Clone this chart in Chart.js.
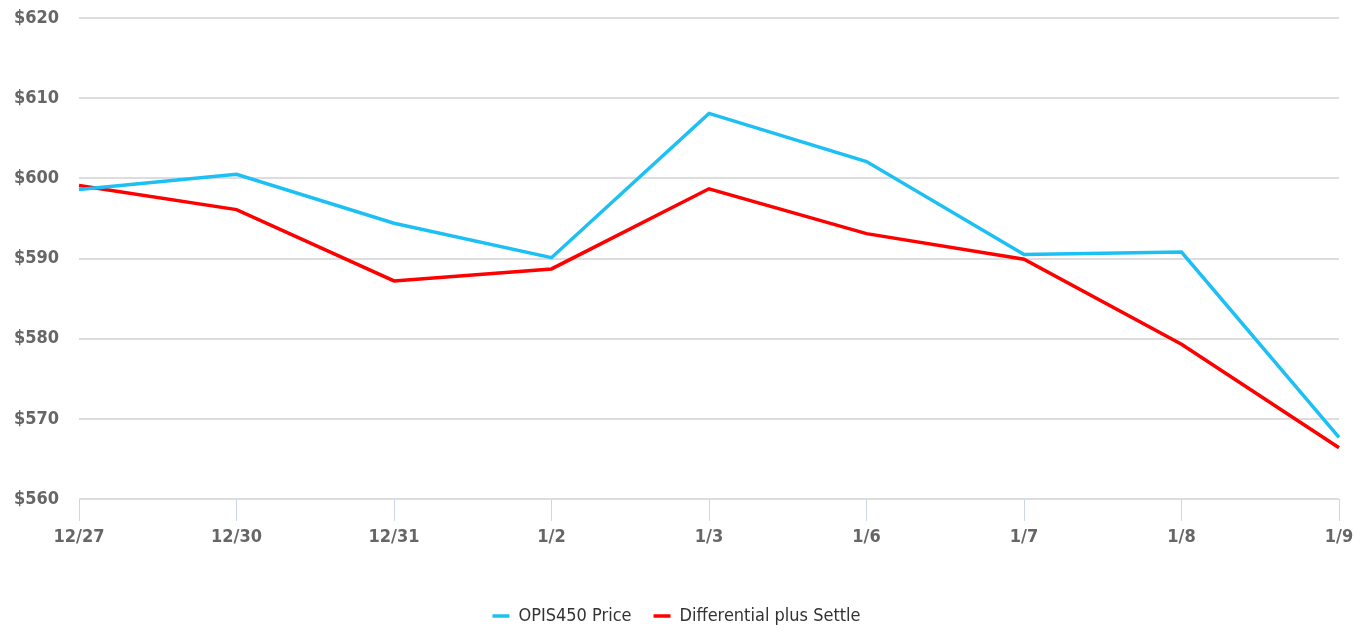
<!DOCTYPE html>
<html>
<head>
<meta charset="utf-8">
<script src="https://cdn.jsdelivr.net/npm/chart.js@4.4.1/dist/chart.umd.min.js"></script>
<style>
  html, body { margin: 0; padding: 0; background: #fff; }
  #wrap { width: 1360px; height: 632px; position: relative; }
</style>
</head>
<body>
<div id="wrap"><canvas id="priceChart"></canvas></div>
<script>
// dates on the x axis
const days = ['12/27', '12/30', '12/31', '1/2', '1/3', '1/6', '1/7', '1/8', '1/9'];

// $ per unit
const opisPrice = [598.6, 600.5, 594.4, 590.1, 608.1, 602.1, 590.5, 590.8, 567.7];
const diffPlusSettle = [599.1, 596.1, 587.2, 588.7, 598.7, 593.1, 589.9, 579.3, 566.4];

const yMin = 560;
const yMax = 620;
const yStep = 10;

const narrowFont = "'Liberation Sans Narrow', 'Arial Narrow', 'DejaVu Sans Condensed', sans-serif";

const ctx = document.getElementById('priceChart').getContext('2d');
const priceChart = new Chart(ctx, {
    type: 'line',
    data: {
        labels: days,
        datasets: [{
            label: 'OPIS450 Price',
            data: opisPrice,
            borderColor: '#1cc0f4',
            backgroundColor: '#1cc0f4',
            borderWidth: 3.5,
            pointRadius: 0,
            pointStyle: 'line',
            tension: 0,
            fill: false,
        }, {
            label: 'Differential plus Settle',
            data: diffPlusSettle,
            borderColor: '#ff0000',
            backgroundColor: '#ff0000',
            borderWidth: 3.5,
            pointRadius: 0,
            pointStyle: 'line',
            tension: 0,
            fill: false,
        }]
    },
    options: {
        responsive: true,
        maintainAspectRatio: false,
        animation: false,
        layout: {
            padding: { top: 18, right: 21, bottom: -3, left: 14 }
        },
        plugins: {
            tooltip: { enabled: false },
            legend: {
                position: 'bottom',
                labels: {
                    usePointStyle: true,
                    pointStyleWidth: 17,
                    padding: 22,
                    color: '#333333',
                    font: { family: narrowFont, size: 18 }
                }
            }
        },
        scales: {
            x: {
                offset: false,
                grid: {
                    drawOnChartArea: false,
                    drawTicks: true,
                    tickLength: 22,
                    color: '#ccd6eb',
                    lineWidth: 1
                },
                border: { display: false },
                ticks: {
                    padding: 6,
                    maxRotation: 0,
                    autoSkip: false,
                    color: '#666666',
                    font: { family: narrowFont, size: 18, weight: 'bold' }
                },
                afterFit: function(scale) { scale.height = 86; }
            },
            y: {
                min: yMin,
                max: yMax,
                grid: {
                    drawTicks: false,
                    color: '#dddddd',
                    lineWidth: 2
                },
                border: { display: false },
                ticks: {
                    stepSize: yStep,
                    padding: 0,
                    crossAlign: 'far',
                    color: '#666666',
                    font: { family: narrowFont, size: 18, weight: 'bold' },
                    callback: function(value) { return '$' + value; }
                },
                afterFit: function(scale) { scale.width = 65; }
            }
        }
    }
});
</script>
</body>
</html>
